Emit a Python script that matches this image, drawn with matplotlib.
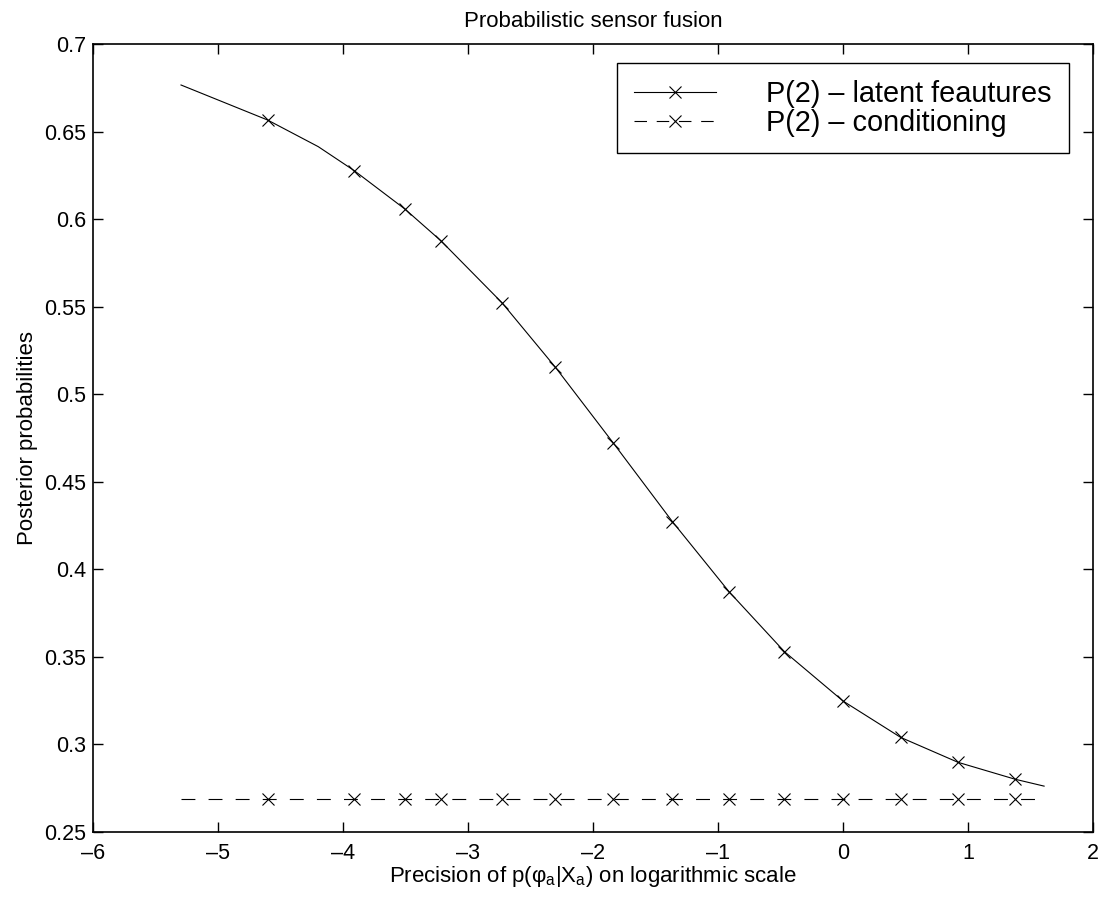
import matplotlib
matplotlib.use("Agg")
import matplotlib.pyplot as plt
from matplotlib.lines import Line2D

plt.rcParams['font.family'] = ['Liberation Sans', 'DejaVu Sans']
plt.rcParams['mathtext.fontset'] = 'custom'
plt.rcParams['mathtext.rm'] = 'Liberation Sans'
plt.rcParams['mathtext.it'] = 'Liberation Sans'
plt.rcParams['lines.scale_dashes'] = False

# Data
marker_x = [-4.605, -3.912, -3.507, -3.219, -2.73, -2.303, -1.837, -1.365,
            -0.912, -0.469, 0.0, 0.462, 0.92, 1.379]
latent_y = [0.6566, 0.6277, 0.6058, 0.5877, 0.5523, 0.5155, 0.4720, 0.4272,
            0.3872, 0.3530, 0.3248, 0.3040, 0.2898, 0.2801]
cond_y = [0.2688] * len(marker_x)

line_x = [-5.298, -4.605, -4.2, -3.912, -3.507, -3.219, -2.73, -2.303, -1.837,
          -1.365, -0.912, -0.469, 0.0, 0.462, 0.92, 1.379, 1.609]
line_y = [0.6766, 0.6566, 0.6414, 0.6277, 0.6058, 0.5877, 0.5523, 0.5155, 0.4720,
          0.4272, 0.3872, 0.3530, 0.3248, 0.3040, 0.2898, 0.2801, 0.2762]
cond_line_x = [-5.298, 1.609]
cond_line_y = [0.2688, 0.2688]

labels = ['P(2) – latent feautures', 'P(2) – conditioning']
xticks = [-6, -5, -4, -3, -2, -1, 0, 1, 2]
yticks = [0.25, 0.3, 0.35, 0.4, 0.45, 0.5, 0.55, 0.6, 0.65, 0.7]

fig = plt.figure(figsize=(11.04, 9.02), dpi=100)
ax = fig.add_axes([0.0845, 0.0776, 0.9055, 0.8736])

lw = 0.8
ms = 8
dash = (0, (10, 9.5))
ax.plot(line_x, line_y, color='black', lw=lw)
ax.plot(marker_x, latent_y, ls='none', marker='x', ms=ms, mew=lw, color='black')
ax.plot(cond_line_x, cond_line_y, color='black', lw=lw, ls=dash)
ax.plot(marker_x, cond_y, ls='none', marker='x', ms=ms, mew=lw, color='black')

# legend proxies
h1 = Line2D([], [], color='black', lw=lw, marker='x', ms=ms, mew=lw)
h2 = Line2D([], [], color='black', lw=lw, ls=(0, (9, 7)), marker='x', ms=ms, mew=lw)
leg = ax.legend([h1, h2], labels, loc='upper right', bbox_to_anchor=(0.9757, 0.9755),
                borderaxespad=0, fontsize=20.8, handlelength=2.85, handletextpad=1.73,
                borderpad=0.58, labelspacing=0.02, fancybox=False, framealpha=1,
                edgecolor='black', numpoints=1)
leg.get_frame().set_linewidth(1.0)

ax.set_xlim(-6, 2)
ax.set_ylim(0.25, 0.7)
ax.set_xticks(xticks)
ax.set_yticks(yticks)
ax.set_xticklabels([str(t).replace('-', '–') for t in xticks])
ax.set_yticklabels([('%g' % t) for t in yticks])
ax.tick_params(direction='in', length=7, width=1.0, top=True, right=True,
               labelsize=15.5, colors='black')
ax.tick_params(axis='x', pad=8)
ax.tick_params(axis='y', pad=5)
for s in ax.spines.values():
    s.set_linewidth(1.2)

ax.set_title('Probabilistic sensor fusion', fontsize=16, pad=12)
ax.set_xlabel(r'Precision of p(φ$_{\rm a}$|X$_{\rm a}$) on logarithmic scale', fontsize=16, labelpad=0)
ax.set_ylabel('Posterior probabilities', fontsize=16, labelpad=4.5)

fig.savefig('out.png', dpi=100)
